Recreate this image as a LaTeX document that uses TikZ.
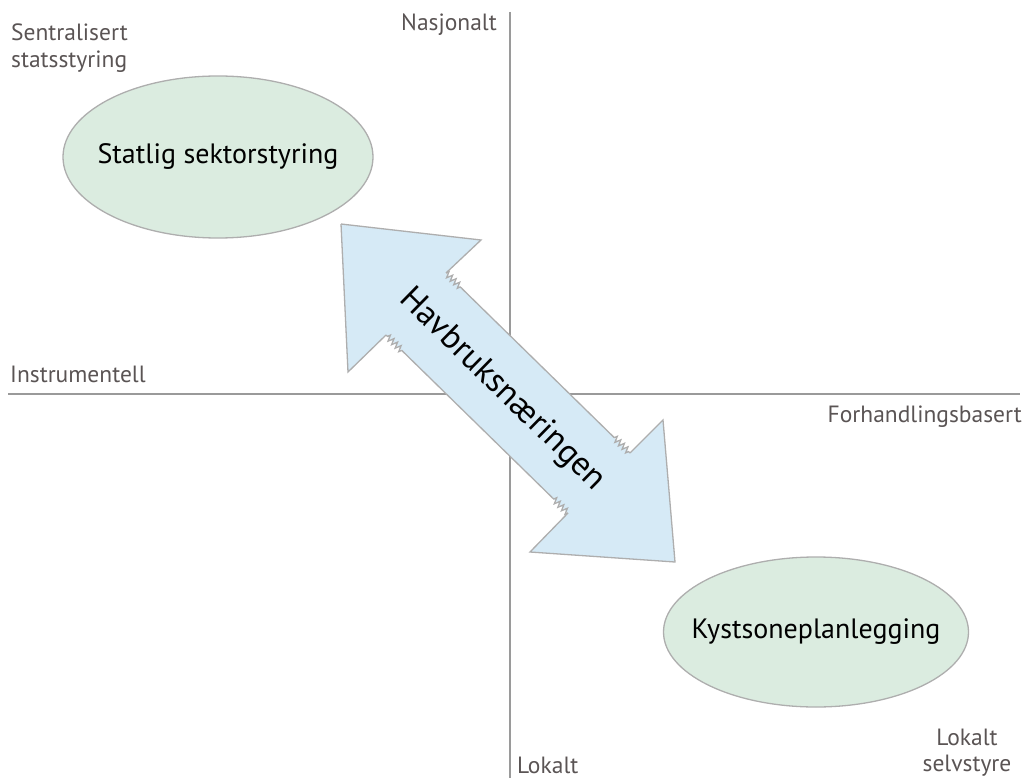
\documentclass[tikz,border=0pt]{standalone}
\usepackage{fontspec}
\setmainfont{PT Sans}
\usetikzlibrary{shapes.geometric,decorations.pathmorphing,calc}
\definecolor{axisgray}{HTML}{9A9A9A}
\definecolor{labelgray}{HTML}{5A5454}
\definecolor{ovalfill}{HTML}{DBECE0}
\definecolor{arrowfill}{HTML}{D6EAF6}
\definecolor{edgegray}{HTML}{AEAEAE}
\begin{document}
\begin{tikzpicture}[x=1pt,y=-1pt,
  axis/.style={draw=axisgray,line width=1.3pt},
  lbl/.style={text=labelgray,font=\fontsize{23.5}{27}\selectfont,inner sep=0pt},
  oval/.style={ellipse,draw=edgegray,fill=ovalfill,line width=1.3pt,inner sep=0pt},
  ovaltext/.style={font=\fontsize{28}{32}\selectfont,inner sep=0pt},
  edge/.style={draw=edgegray,line width=1.3pt,line join=miter},
  zz/.style={edge,decorate,decoration={zigzag,segment length=5pt,amplitude=3pt}}]
\useasboundingbox (0,0) rectangle (1027,778);

% axes
\coordinate (vtop) at (510,12);
\coordinate (vbot) at (510,778);
\coordinate (hl) at (8,394);
\coordinate (hr) at (1020,394);
\draw[axis] (vtop) -- (vbot);
\draw[axis] (hl) -- (hr);

% axis labels
\node[lbl,anchor=base west] (sent1) at (11,41) {Sentralisert};
\node[lbl,anchor=base west] (sent2) at (11,68) {statsstyring};
\node[lbl,anchor=base east] (nasj) at (497,31) {Nasjonalt};
\node[lbl,anchor=base west] (instr) at (10,382) {Instrumentell};
\node[lbl,anchor=base east] (forh) at (1022,422) {Forhandlingsbasert};
\node[lbl,anchor=base west] (lok) at (517,773) {Lokalt};
\node[lbl,anchor=base] (lok2a) at (967,745) {Lokalt};
\node[lbl,anchor=base] (lok2b) at (967,771) {selvstyre};

% the two governance ovals
\node[oval,minimum width=310pt,minimum height=162pt] (stat) at (218,157) {};
\node[ovaltext] (stattxt) at (stat.center) {Statlig sektorstyring};
\node[oval,minimum width=305pt,minimum height=150pt] (kyst) at (816,632) {};
\node[ovaltext] (kysttxt) at (kyst.center) {Kystsoneplanlegging};

% double-headed arrow
\coordinate (T1) at (341,224);
\coordinate (W1) at (481,240);
\coordinate (N1) at (446,273);
\coordinate (N2) at (630,453);
\coordinate (W2) at (663,420);
\coordinate (T2) at (675,562);
\coordinate (W3) at (530,552);
\coordinate (N3) at (568,513);
\coordinate (N4) at (386,335);
\coordinate (W4) at (348,372);
\coordinate (Z1) at ($(N1)!22pt!(N2)$);
\coordinate (Z2) at ($(N2)!22pt!(N1)$);
\coordinate (Z3) at ($(N3)!22pt!(N4)$);
\coordinate (Z4) at ($(N4)!22pt!(N3)$);
\fill[arrowfill] (T1) -- (W1) -- (N1) -- (N2) -- (W2) -- (T2) -- (W3)
  -- (N3) -- (N4) -- (W4) -- cycle;
\draw[edge] (T1) -- (W1) -- (N1);
\draw[zz] (N1) -- (Z1);
\draw[edge] (Z1) -- (Z2);
\draw[zz] (Z2) -- (N2);
\draw[edge] (N2) -- (W2) -- (T2) -- (W3) -- (N3);
\draw[zz] (N3) -- (Z3);
\draw[edge] (Z3) -- (Z4);
\draw[zz] (Z4) -- (N4);
\draw[edge] (N4) -- (W4) -- (T1);

\node[rotate=-44.4,font=\fontsize{34}{38}\selectfont,inner sep=0pt] (hav) at (502,390) {Havbruksnæringen};
\end{tikzpicture}
\end{document}
